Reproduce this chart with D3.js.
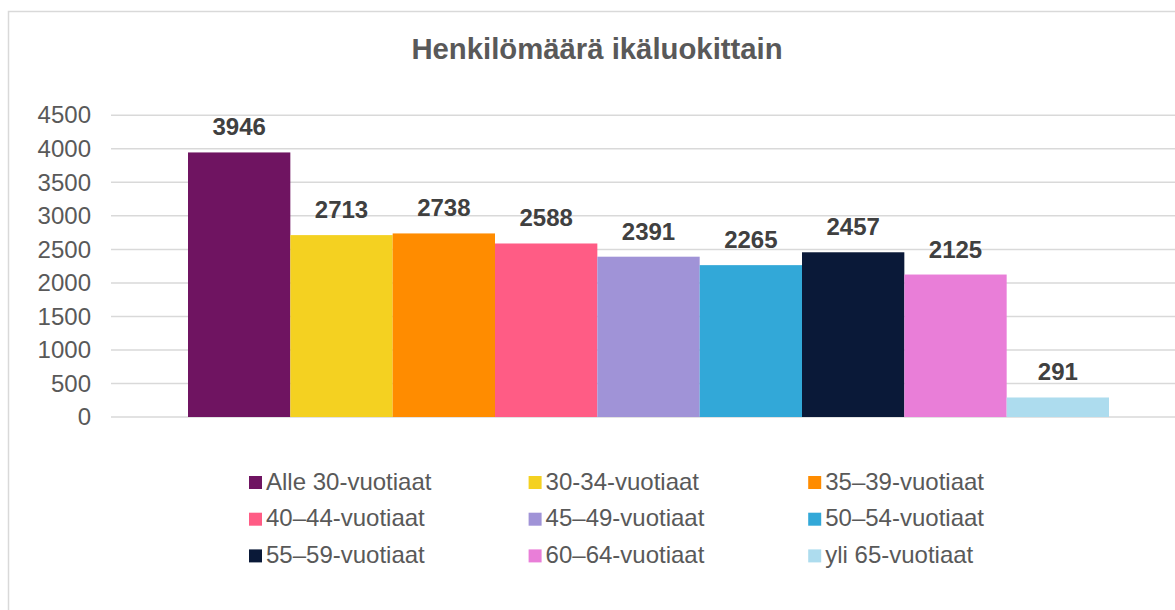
<!DOCTYPE html>
<html>
<head>
<meta charset="utf-8">
<script src="https://cdn.jsdelivr.net/npm/d3@7"></script>
<style>
  body { margin: 0; background: #fff; }
  svg { display: block; font-family: "Liberation Sans", Arial, sans-serif; }
</style>
</head>
<body>
<script>
// ikäluokat ja henkilömäärät
const groups = ["Alle 30-vuotiaat", "30-34-vuotiaat", "35–39-vuotiaat",
  "40–44-vuotiaat", "45–49-vuotiaat", "50–54-vuotiaat",
  "55–59-vuotiaat", "60–64-vuotiaat", "yli 65-vuotiaat"];
const counts = [3946, 2713, 2738, 2588, 2391, 2265, 2457, 2125, 291];
const colors = ["#6f1461", "#f4d121", "#ff8c00", "#ff5c85", "#a093d7",
  "#32a8d8", "#0a1938", "#e97ed8", "#addcee"];
const yTicks = [0, 500, 1000, 1500, 2000, 2500, 3000, 3500, 4000, 4500];

const W = 1175, H = 610;
const svg = d3.select("body").append("svg").attr("width", W).attr("height", H);

// chart area border (goes off the right/bottom edge like in the original)
svg.append("rect").attr("x", 8.5).attr("y", 11.5)
  .attr("width", 1300).attr("height", 700)
  .attr("fill", "none").attr("stroke", "#d9d9d9").attr("stroke-width", 1.5);

svg.append("text").attr("x", 597).attr("y", 59)
  .attr("text-anchor", "middle").attr("font-size", 29.3).attr("font-weight", "bold")
  .attr("fill", "#595959").text("Henkilömäärä ikäluokittain");

const x = d3.scaleBand().domain(groups).range([188, 1109]).padding(0);
const y = d3.scaleLinear().domain([0, 4500]).range([417, 115.3]);

// gridlines
svg.append("g").selectAll("line").data(yTicks).enter().append("line")
  .attr("x1", 111).attr("x2", W)
  .attr("y1", d => y(d)).attr("y2", d => y(d))
  .attr("stroke", "#d9d9d9").attr("stroke-width", 1.5);

// y axis labels
const yAxis = svg.append("g").attr("transform", "translate(91,0)")
  .call(d3.axisLeft(y).tickValues(yTicks).tickFormat(d3.format("d")).tickSize(0).tickPadding(0));
yAxis.select(".domain").remove();
yAxis.selectAll("text").attr("font-size", 24).attr("fill", "#595959")
  .attr("font-family", "Liberation Sans, Arial, sans-serif");

// bars
svg.append("g").selectAll("rect").data(groups).enter().append("rect")
  .attr("x", d => x(d)).attr("width", x.bandwidth())
  .attr("y", (d, i) => y(counts[i]))
  .attr("height", (d, i) => y(0) - y(counts[i]))
  .attr("fill", (d, i) => colors[i]);

// value labels
svg.append("g").selectAll("text").data(groups).enter().append("text")
  .attr("x", d => x(d) + x.bandwidth() / 2)
  .attr("y", (d, i) => y(counts[i]) - 17)
  .attr("text-anchor", "middle").attr("font-size", 24).attr("font-weight", "bold")
  .attr("fill", "#404040").text((d, i) => counts[i]);

// legend, 3 columns
const leg = svg.append("g").selectAll("g").data(groups).enter().append("g")
  .attr("transform", (d, i) => `translate(${249 + (i % 3) * 279.6},${476 + Math.floor(i / 3) * 36.7})`);
leg.append("rect").attr("width", 13).attr("height", 13).attr("fill", (d, i) => colors[i]);
leg.append("text").attr("x", 17).attr("y", 13.5)
  .attr("font-size", 24).attr("fill", "#595959").text(d => d);
</script>
</body>
</html>
